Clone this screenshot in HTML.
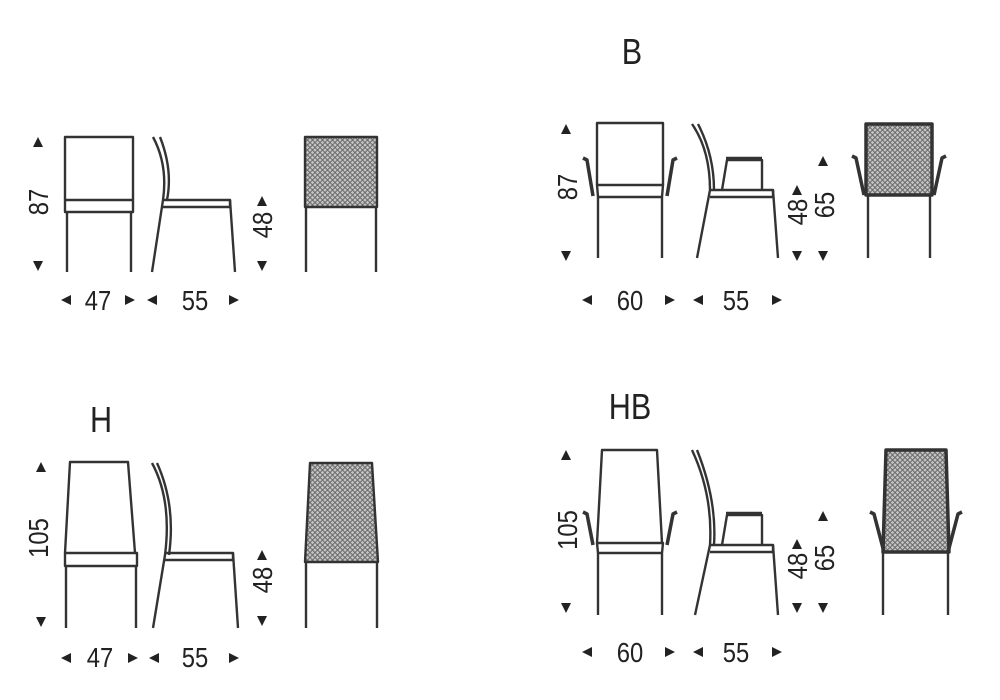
<!DOCTYPE html>
<html><head><meta charset="utf-8"><style>
html,body{margin:0;padding:0;background:#fff;width:1000px;height:700px;overflow:hidden}
svg{display:block}
text{font-family:"Liberation Sans",sans-serif;fill:#222}
.n{font-size:28px}
.t{font-size:36px}
</style></head><body>
<svg width="1000" height="700" viewBox="0 0 1000 700" xmlns="http://www.w3.org/2000/svg">
<defs>
<pattern id="h" width="5" height="5" patternUnits="userSpaceOnUse">
<rect width="5" height="5" fill="#c4c4c4"/>
<path d="M0 2.5L2.5 0L5 2.5L2.5 5Z" fill="none" stroke="#666" stroke-width="0.9"/>
</pattern>
</defs>
<g fill="none" stroke="#333" stroke-width="2.4" stroke-linejoin="round">
<!-- Top-left -->
<path d="M65 200V137H133V200"/>
<path d="M65 200H133V212H65Z"/>
<path d="M67 212V272M131 212V272"/>
<path d="M153 137Q168 165 163 200L152 272M160 137Q173 170 167 200"/>
<path d="M163 200H230V207H163"/>
<path d="M230 200L235 272"/>
<path d="M305 137H377V207H305Z" fill="url(#h)"/>
<path d="M306 207V272M376 207V272"/>
<!-- B -->
<path d="M597 185V123H663V185"/>
<path d="M597 185H663L662 197H598Z"/>
<path d="M583 158L587 160L593 196M677 158L673 160L667 196" stroke-width="3.5"/>
<path d="M598 197V258M662 197V258"/>
<path d="M692 124Q710 150 710 190L697 258M698 124Q714 155 714 190"/>
<path d="M710 190H773V197H710"/>
<path d="M722 190L727 160H762V190M726 158H762" />
<path d="M773 190L778 258"/>
<path d="M866 124H932V195H866Z" fill="url(#h)" stroke-width="3.5"/>
<path d="M852 156L856 158L864 195M946 156L942 158L934 195" stroke-width="3.5"/>
<path d="M868 195V258M930 195V258"/>
<!-- H -->
<path d="M65 553L70 462H128L135 553"/>
<path d="M65 553H137V566H65Z"/>
<path d="M66 566V628M136 566V628"/>
<path d="M152 463Q172 500 165 555L153 628M157 463Q176 505 169 555"/>
<path d="M165 553H233V560H165"/>
<path d="M233 553L238 628"/>
<path d="M305 562L310 463H372L378 562Z" fill="url(#h)"/>
<path d="M306 562V628M377 562V628"/>
<!-- HB -->
<path d="M597 543L602 450H657L662 543"/>
<path d="M597 543H663L662 553H598Z"/>
<path d="M583 512L587 514L593 545M677 512L673 514L667 545" stroke-width="3.5"/>
<path d="M598 553V615M662 553V615"/>
<path d="M692 450Q713 495 710 545L695 615M697 450Q717 500 714 545"/>
<path d="M710 545H773V552H710"/>
<path d="M722 545L727 515H762V545M726 513H762"/>
<path d="M773 545L778 615"/>
<path d="M886 450H946L949 552H883Z" fill="url(#h)" stroke-width="3.5"/>
<path d="M870 512L874 514L884 552M962 512L958 514L948 552" stroke-width="3.5"/>
<path d="M883 552V615M948 552V615"/>
</g>
<g fill="#222">
<path d="M33 147l5-10 5 10z M33 261l5 10 5-10z"/>
<path d="M257 206l5-10 5 10z M257 261l5 10 5-10z"/>
<path d="M71 295l-10 5 10 5z M125 295l10 5-10 5z M157 295l-10 5 10 5z M229 295l10 5-10 5z"/>
<path d="M561 134l5-10 5 10z M561 251l5 10 5-10z"/>
<path d="M792 195l5-10 5 10z M792 251l5 10 5-10z"/>
<path d="M818 166l5-10 5 10z M818 251l5 10 5-10z"/>
<path d="M592 295l-10 5 10 5z M665 295l10 5-10 5z M703 295l-10 5 10 5z M772 295l10 5-10 5z"/>
<path d="M36 472l5-10 5 10z M36 617l5 10 5-10z"/>
<path d="M257 560l5-10 5 10z M257 616l5 10 5-10z"/>
<path d="M71 653l-10 5 10 5z M128 653l10 5-10 5z M159 653l-10 5 10 5z M229 653l10 5-10 5z"/>
<path d="M561 460l5-10 5 10z M561 603l5 10 5-10z"/>
<path d="M792 549l5-10 5 10z M792 603l5 10 5-10z"/>
<path d="M818 521l5-10 5 10z M818 603l5 10 5-10z"/>
<path d="M592 647l-10 5 10 5z M665 647l10 5-10 5z M703 647l-10 5 10 5z M772 647l10 5-10 5z"/>
</g>
<g class="n">
<text transform="translate(98 310) scale(0.85 1)" text-anchor="middle">47</text>
<text transform="translate(195 310) scale(0.85 1)" text-anchor="middle">55</text>
<text transform="translate(48 202) rotate(-90) scale(0.85 1)" text-anchor="middle">87</text>
<text transform="translate(272 225) rotate(-90) scale(0.85 1)" text-anchor="middle">48</text>
<text transform="translate(630 310) scale(0.85 1)" text-anchor="middle">60</text>
<text transform="translate(736 310) scale(0.85 1)" text-anchor="middle">55</text>
<text transform="translate(577 187) rotate(-90) scale(0.85 1)" text-anchor="middle">87</text>
<text transform="translate(807 212) rotate(-90) scale(0.85 1)" text-anchor="middle">48</text>
<text transform="translate(834 205) rotate(-90) scale(0.85 1)" text-anchor="middle">65</text>
<text transform="translate(100 667) scale(0.85 1)" text-anchor="middle">47</text>
<text transform="translate(195 667) scale(0.85 1)" text-anchor="middle">55</text>
<text transform="translate(48 538) rotate(-90) scale(0.85 1)" text-anchor="middle">105</text>
<text transform="translate(272 580) rotate(-90) scale(0.85 1)" text-anchor="middle">48</text>
<text transform="translate(630 662) scale(0.85 1)" text-anchor="middle">60</text>
<text transform="translate(736 662) scale(0.85 1)" text-anchor="middle">55</text>
<text transform="translate(577 530) rotate(-90) scale(0.85 1)" text-anchor="middle">105</text>
<text transform="translate(807 566) rotate(-90) scale(0.85 1)" text-anchor="middle">48</text>
<text transform="translate(834 558) rotate(-90) scale(0.85 1)" text-anchor="middle">65</text>
</g>
<text class="t" transform="translate(632 64) scale(0.85 1)" text-anchor="middle">B</text>
<text class="t" transform="translate(101 432) scale(0.85 1)" text-anchor="middle">H</text>
<text class="t" transform="translate(630 419) scale(0.85 1)" text-anchor="middle">HB</text>
</svg>
</body></html>
